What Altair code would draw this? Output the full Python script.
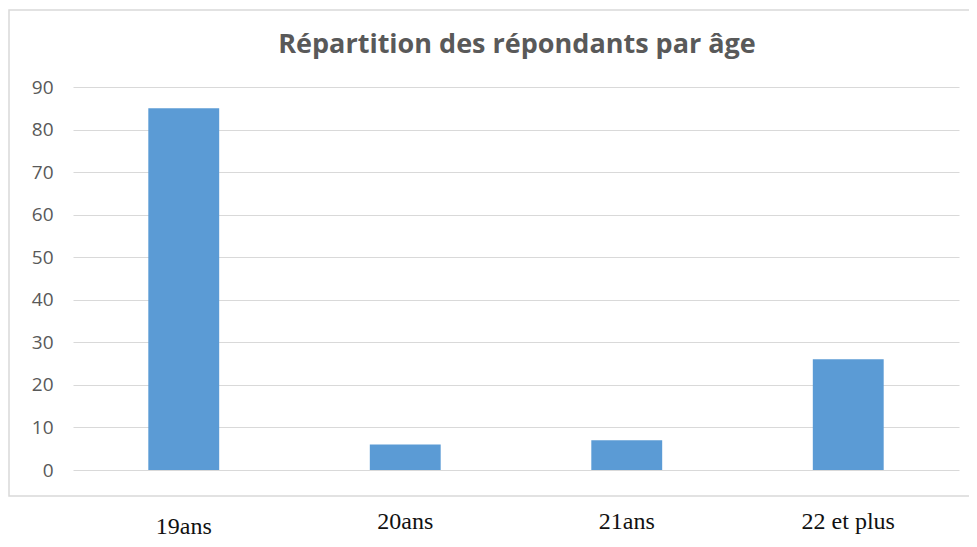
import altair as alt
import pandas as pd

title_text = "Répartition des répondants par âge"
categories = ["19ans", "20ans", "21ans", "22 et plus"]
values = [85, 6, 7, 26]
y_ticks = [0, 10, 20, 30, 40, 50, 60, 70, 80, 90]

df = pd.DataFrame({"age": categories, "n": values})
title_df = pd.DataFrame({"t": [title_text]})

x_scale = alt.Scale(domain=categories, paddingInner=0.68, paddingOuter=0.34)
y_scale = alt.Scale(domain=[0, 90], nice=False)

frame = alt.Chart(title_df).mark_rect(
    fillOpacity=0, stroke="#D9D9D9", strokeWidth=1.5, clip=False
).encode(
    x=alt.value(-64), x2=alt.value(940), y=alt.value(-77), y2=alt.value(409)
)

title = alt.Chart(title_df).mark_text(
    font="Open Sans", fontSize=27, fontWeight="bold", color="#595959",
    baseline="middle", align="center", clip=False
).encode(
    x=alt.value(444), y=alt.value(-42), text="t:N"
)

bars = alt.Chart(df).mark_bar(color="#5B9BD5").encode(
    x=alt.X("age:N", scale=x_scale, sort=categories,
            axis=alt.Axis(labels=False, ticks=False, domain=False, title=None, grid=False)),
    y=alt.Y("n:Q", scale=y_scale,
            axis=alt.Axis(values=y_ticks, title=None, ticks=False, domain=False,
                          grid=True, gridColor="#D9D9D9", gridWidth=1.2,
                          labelFont="Open Sans", labelFontSize=19, labelColor="#595959",
                          labelPadding=20)),
)

label_style = dict(font="Liberation Serif", fontSize=24, color="#111111",
                   baseline="middle", clip=False)

xlabels_a = alt.Chart(df).transform_filter(alt.datum.age == "19ans").mark_text(
    **label_style
).encode(
    x=alt.X("age:N", scale=x_scale, sort=categories),
    y=alt.value(440),
    text="age:N",
)
xlabels_b = alt.Chart(df).transform_filter(alt.datum.age != "19ans").mark_text(
    **label_style
).encode(
    x=alt.X("age:N", scale=x_scale, sort=categories),
    y=alt.value(435),
    text="age:N",
)

chart = alt.layer(frame, title, bars, xlabels_a, xlabels_b).properties(
    width=886,
    height=383,
    padding={"left": 65, "top": 79, "right": 10, "bottom": 69},
    autosize=alt.AutoSizeParams(type="none"),
).configure(background="white").configure_view(stroke=None)

chart.save("out.html", embed_options={"renderer": "svg", "actions": False})
